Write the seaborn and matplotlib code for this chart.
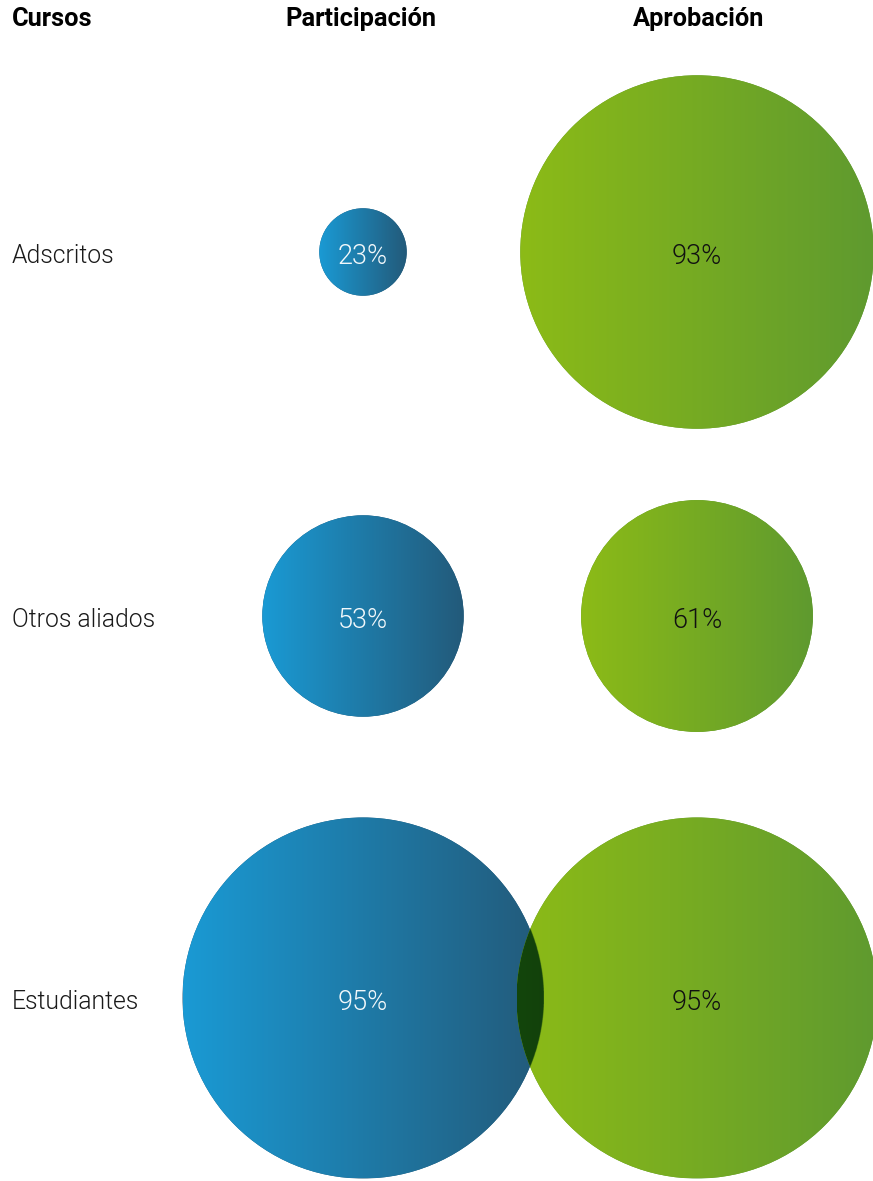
import numpy as np
import pandas as pd
import matplotlib
matplotlib.use("Agg")
import matplotlib.pyplot as plt
from matplotlib.patches import Circle
from matplotlib.colors import to_rgb
import seaborn as sns

# Data
categories = ["Adscritos", "Otros aliados", "Estudiantes"]
participacion = [23, 53, 95]
aprobacion = [93, 61, 95]
headers = ["Cursos", "Participación", "Aprobación"]

# Layout (pixel canvas)
W, H = 873, 1181
col_x = {"Participación": 363, "Aprobación": 697}
row_y = [252, 616, 998]
px_per_pct = 1.9

blue_grad = ("#1a9ad4", "#235a7a")
green_grad = ("#8cbb17", "#5f9a2f")

sns.set_theme(style="white")
plt.rcParams["font.family"] = ["Roboto", "DejaVu Sans"]

fig = plt.figure(figsize=(W / 100, H / 100), dpi=100)
ax = fig.add_axes([0, 0, 1, 1])

rows = []
for i, cat in enumerate(categories):
    rows.append(dict(cat=cat, serie="Participación", valor=participacion[i], row=i))
    rows.append(dict(cat=cat, serie="Aprobación", valor=aprobacion[i], row=i))
df = pd.DataFrame(rows)
df["x"] = df["serie"].map(col_x)
df["y"] = df["row"].map(lambda r: row_y[r])
df["r"] = df["valor"] * px_per_pct
# marker area in points^2 (1 px = 0.72 pt at 100 dpi)
df["s"] = (2 * df["r"] * 0.72) ** 2

sns.scatterplot(data=df, x="x", y="y", hue="serie", size="s",
                sizes=(df["s"].min(), df["s"].max()),
                palette={"Participación": blue_grad[1], "Aprobación": green_grad[1]},
                linewidth=0, legend=False, ax=ax, zorder=1)
ax.set_xlim(0, W)
ax.set_ylim(H, 0)
ax.axis("off")


def gradient_rgb(c0, c1, n=256):
    t = np.linspace(0, 1, n)[:, None]
    a, b = np.array(to_rgb(c0)), np.array(to_rgb(c1))
    return a * (1 - t) + b * t  # n x 3


def draw_gradient_circle(x, y, r, grad, z):
    circ = Circle((x, y), r, transform=ax.transData, facecolor="none", edgecolor="none")
    ax.add_patch(circ)
    g = gradient_rgb(*grad)[None, :, :]
    im = ax.imshow(g, extent=(x - r, x + r, y + r, y - r), aspect="auto",
                   interpolation="bilinear", zorder=z)
    im.set_clip_path(circ)
    return circ


for _, row in df.iterrows():
    grad = blue_grad if row.serie == "Participación" else green_grad
    z = 2 if row.serie == "Participación" else 3
    draw_gradient_circle(row.x, row.y, row.r, grad, z)

# Multiply-blend where the two bubbles of a row overlap
for i in range(len(categories)):
    a = df[(df.row == i) & (df.serie == "Participación")].iloc[0]
    b = df[(df.row == i) & (df.serie == "Aprobación")].iloc[0]
    if a.r + b.r <= b.x - a.x:
        continue
    x0, x1 = b.x - b.r, a.x + a.r
    y0, y1 = a.y - a.r, a.y + a.r
    nx, ny = 200, 800
    xs = np.linspace(x0, x1, nx)
    ys = np.linspace(y0, y1, ny)
    XX, YY = np.meshgrid(xs, ys)
    ta = np.clip((XX - (a.x - a.r)) / (2 * a.r), 0, 1)[..., None]
    tb = np.clip((XX - (b.x - b.r)) / (2 * b.r), 0, 1)[..., None]
    ca = np.array(to_rgb(blue_grad[0])) * (1 - ta) + np.array(to_rgb(blue_grad[1])) * ta
    cb = np.array(to_rgb(green_grad[0])) * (1 - tb) + np.array(to_rgb(green_grad[1])) * tb
    rgb = ca * cb
    inside_a = ((XX - a.x) ** 2 + (YY - a.y) ** 2) <= a.r ** 2
    rgba = np.dstack([rgb, inside_a.astype(float)])
    clip = Circle((b.x, b.y), b.r, transform=ax.transData, facecolor="none", edgecolor="none")
    ax.add_patch(clip)
    im = ax.imshow(rgba, extent=(x0, x1, y1, y0), aspect="auto",
                   interpolation="bilinear", zorder=4)
    im.set_clip_path(clip)

# Value labels
for _, row in df.iterrows():
    color = "#f2f8fb" if row.serie == "Participación" else "#111111"
    ax.text(row.x, row.y + 4, f"{row.valor}%", ha="center", va="center",
            fontsize=19.5, fontweight=300, color=color, zorder=6)

# Row labels
for i, cat in enumerate(categories):
    ax.text(12, row_y[i] + 4, cat, ha="left", va="center",
            fontsize=17.8, fontweight=300, color="#1a1a1a", zorder=6)

# Column headers
ax.text(12, 19, headers[0], ha="left", va="center", fontsize=18.3,
        fontweight="bold", color="#000000")
ax.text(361, 19, headers[1], ha="center", va="center", fontsize=18.3,
        fontweight="bold", color="#000000")
ax.text(699, 19, headers[2], ha="center", va="center", fontsize=18.3,
        fontweight="bold", color="#000000")

fig.savefig("out.png", dpi=100)
